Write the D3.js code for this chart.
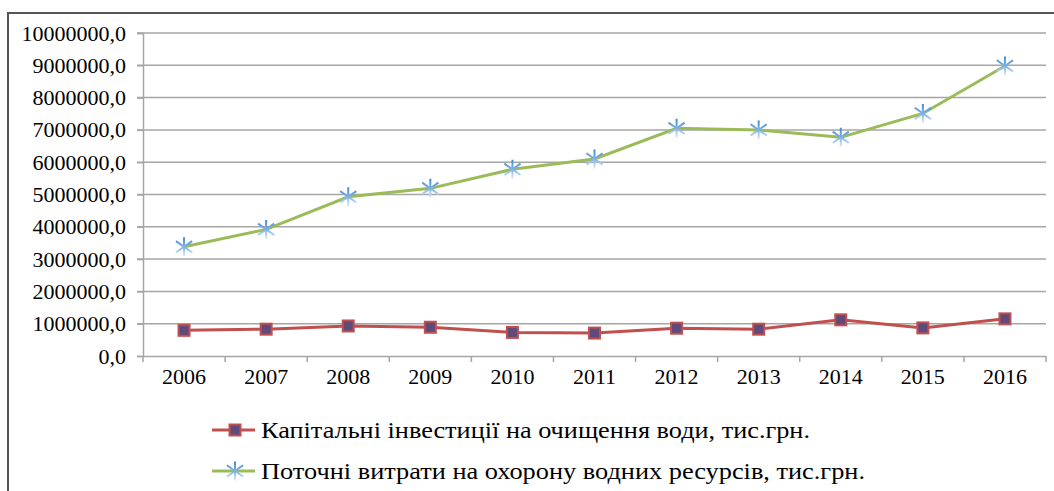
<!DOCTYPE html>
<html>
<head>
<meta charset="utf-8">
<script src="https://cdn.jsdelivr.net/npm/d3@7"></script>
</head>
<body style="margin:0">
<script>
// значення
var years = ["2006","2007","2008","2009","2010","2011","2012","2013","2014","2015","2016"];
var capital = [795000, 830000, 930000, 890000, 730000, 710000, 860000, 830000, 1120000, 870000, 1150000];
var current = [3380000, 3920000, 4930000, 5190000, 5780000, 6100000, 7050000, 7000000, 6770000, 7510000, 8980000];
var yTicks = [0, 1000000, 2000000, 3000000, 4000000, 5000000, 6000000, 7000000, 8000000, 9000000, 10000000];
var legendNames = ["Капітальні інвестиції на очищення води, тис.грн.", "Поточні витрати на охорону водних ресурсів, тис.грн."];

var W = 1054, H = 491;
var mLeft = 143, mRight = 1046, mTop = 33, mBottom = 356;

var svg = d3.select("body").append("svg")
	.attr("width", W)
	.attr("height", H)
	.attr("font-family", "Times New Roman");

var defs = svg.append("defs");
var grad = defs.append("linearGradient")
	.attr("id", "starGrad")
	.attr("x1", 0).attr("y1", 0).attr("x2", 0).attr("y2", 1);
grad.append("stop").attr("offset", "0%").attr("stop-color", "#3d8bd6");
grad.append("stop").attr("offset", "55%").attr("stop-color", "#86b6e6");
grad.append("stop").attr("offset", "100%").attr("stop-color", "#e0ecf8");

// рамка
svg.append("path")
	.attr("d", "M8," + H + "V13H" + W)
	.attr("fill", "none")
	.attr("stroke", "#555")
	.attr("stroke-width", 2);

var x = d3.scaleBand().domain(years).range([mLeft, mRight]);
var y = d3.scaleLinear().domain([0, 10000000]).range([mBottom, mTop]);

// сітка
svg.append("g")
	.selectAll("line")
	.data(yTicks.slice(1))
	.enter()
	.append("line")
	.attr("x1", mLeft - 6)
	.attr("x2", mRight)
	.attr("y1", function(d) { return y(d); })
	.attr("y2", function(d) { return y(d); })
	.attr("stroke", "#a6a6a6")
	.attr("stroke-width", 1.5);

// вісь Y
var yAxis = svg.append("g")
	.attr("transform", "translate(" + mLeft + ",0)")
	.call(d3.axisLeft(y).tickValues(yTicks).tickSize(6).tickPadding(11)
		.tickFormat(function(d) { return d3.format(".1f")(d).replace(".", ","); }))
	.attr("font-family", "Times New Roman")
	.attr("font-size", 22);
yAxis.select(".domain").attr("stroke", "#a6a6a6").attr("stroke-width", 1.5);
yAxis.selectAll(".tick line").attr("stroke", "#a6a6a6").attr("stroke-width", 1.5);
yAxis.selectAll("text").attr("fill", "#000");

// вісь X
var xAxis = svg.append("g")
	.attr("transform", "translate(0," + mBottom + ")")
	.call(d3.axisBottom(x).tickSize(0).tickPadding(12))
	.attr("font-family", "Times New Roman")
	.attr("font-size", 22);
xAxis.select(".domain").attr("stroke", "#a6a6a6").attr("stroke-width", 1.5);
xAxis.selectAll("text").attr("fill", "#000");

xAxis.selectAll(".sep")
	.data(d3.range(years.length + 1))
	.enter()
	.append("line")
	.attr("class", "sep")
	.attr("x1", function(i) { return mLeft + i * x.step(); })
	.attr("x2", function(i) { return mLeft + i * x.step(); })
	.attr("y1", 0)
	.attr("y2", 6)
	.attr("stroke", "#a6a6a6")
	.attr("stroke-width", 1.5);

var cx = function(d, i) { return x(years[i]) + x.bandwidth() / 2; };

var line = d3.line()
	.x(cx)
	.y(function(d) { return y(d); });

function starPath(r) {
	var a = r * 0.85;
	return "M0," + (-r) + "V" + r +
		"M" + (-a) + "," + (-r * 0.6) + "L" + a + "," + (r * 0.6) +
		"M" + a + "," + (-r * 0.6) + "L" + (-a) + "," + (r * 0.6);
}

// поточні витрати
svg.append("path")
	.datum(current)
	.attr("d", line)
	.attr("fill", "none")
	.attr("stroke", "#9bbb59")
	.attr("stroke-width", 3);

svg.append("g")
	.selectAll("path")
	.data(current)
	.enter()
	.append("path")
	.attr("transform", function(d, i) { return "translate(" + cx(d, i) + "," + y(d) + ")"; })
	.attr("d", starPath(9.5))
	.attr("fill", "none")
	.attr("stroke", "url(#starGrad)")
	.attr("stroke-width", 2);

// капітальні інвестиції
svg.append("path")
	.datum(capital)
	.attr("d", line)
	.attr("fill", "none")
	.attr("stroke", "#c0504d")
	.attr("stroke-width", 3);

svg.append("g")
	.selectAll("rect")
	.data(capital)
	.enter()
	.append("rect")
	.attr("x", function(d, i) { return cx(d, i) - 5.5; })
	.attr("y", function(d) { return y(d) - 5.5; })
	.attr("width", 11)
	.attr("height", 11)
	.attr("fill", "#5f4a7b")
	.attr("stroke", "#c0504d")
	.attr("stroke-width", 2);

// легенда
var legY = [430, 471];
var legLen = [549, 604];
var leg = svg.append("g").attr("font-family", "Times New Roman").attr("font-size", 23);
legendNames.forEach(function(name, k) {
	var g = leg.append("g").attr("transform", "translate(0," + legY[k] + ")");
	g.append("line")
		.attr("x1", 212).attr("x2", 255)
		.attr("stroke", k == 0 ? "#c0504d" : "#9bbb59")
		.attr("stroke-width", 3);
	if (k == 0) {
		g.append("rect")
			.attr("x", 229.5).attr("y", -5.5)
			.attr("width", 11).attr("height", 11)
			.attr("fill", "#5f4a7b")
			.attr("stroke", "#c0504d")
			.attr("stroke-width", 2);
	} else {
		g.append("path")
			.attr("transform", "translate(235,0)")
			.attr("d", starPath(9.5))
			.attr("fill", "none")
			.attr("stroke", "url(#starGrad)")
			.attr("stroke-width", 2);
	}
	g.append("text")
		.attr("x", 261)
		.attr("dy", "0.35em")
		.attr("textLength", legLen[k])
		.attr("lengthAdjust", "spacingAndGlyphs")
		.attr("fill", "#000")
		.text(name);
});
</script>
</body>
</html>
